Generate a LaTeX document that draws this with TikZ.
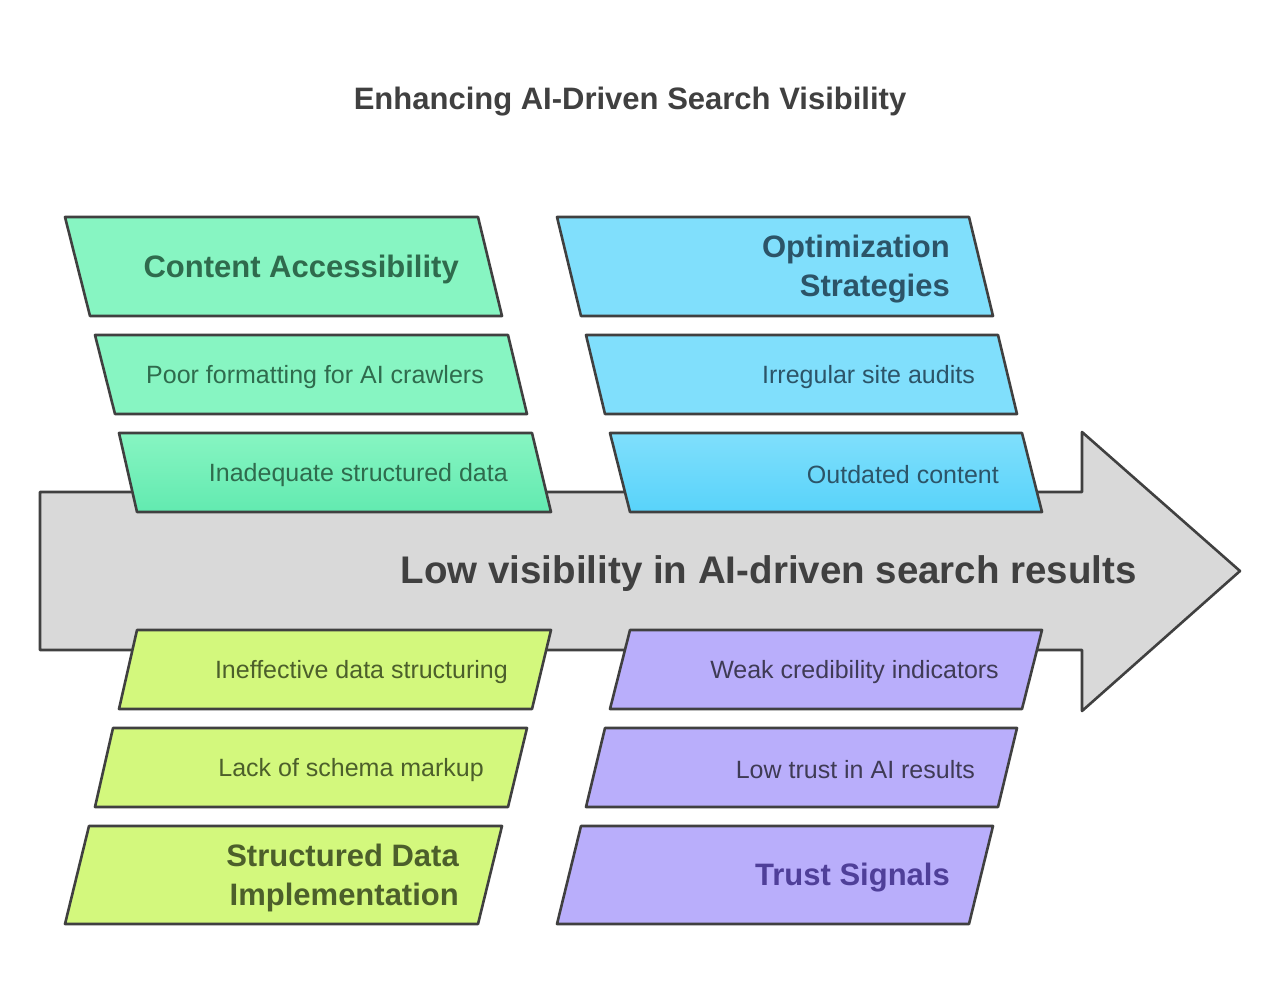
\documentclass[tikz,border=0pt]{standalone}
\usepackage{fontspec}
\setmainfont{Liberation Sans}
\usepackage{tikz}
\definecolor{edge}{HTML}{404040}
\definecolor{arrowgray}{HTML}{D9D9D9}
\definecolor{mint}{HTML}{87F5C2}
\definecolor{mintdark}{HTML}{62EAB0}
\definecolor{minttext}{HTML}{2F6B4D}
\definecolor{sky}{HTML}{80DFFC}
\definecolor{skydark}{HTML}{58D3FA}
\definecolor{skytext}{HTML}{2C5468}
\definecolor{lime}{HTML}{D3F87D}
\definecolor{limetext}{HTML}{4C5F2B}
\definecolor{lilac}{HTML}{B9AEFB}
\definecolor{lilachead}{HTML}{4F3F99}
\definecolor{lilactext}{HTML}{3F3B55}
\tikzset{
  slab/.style={draw=edge, line width=2.6pt, line join=round},
  small/.style={anchor=east, inner sep=0pt, font=\fontsize{25}{30}\selectfont},
  head/.style={anchor=east, inner sep=0pt, align=right, font=\fontsize{31}{39}\selectfont\bfseries}
}

\begin{document}
\begin{tikzpicture}[x=1pt,y=-1pt]
 	\useasboundingbox (0,0) rectangle (1280,1005);
 	\fill [white] (0,0) rectangle (1280,1005);
 	\node (title) [anchor=center, inner sep=0pt, text=edge, font=\fontsize{31}{36}\selectfont\bfseries] at (630,102) {Enhancing AI-Driven Search Visibility};
 	% main arrow
 	\filldraw [slab, fill=arrowgray] (40,492)--(1082,492)--(1082,432)--(1240,571)--(1082,711)--(1082,650)--(40,650)--cycle;
 	\node (problem) [anchor=east, inner sep=0pt, text=edge, font=\fontsize{38.5}{44}\selectfont\bfseries] at (1137,574) {Low visibility in AI-driven search results};
 	% upper left: content accessibility
 	\filldraw [slab, fill=mint] (65,217)--(478,217)--(502,316)--(90,316)--cycle;
 	\filldraw [slab, fill=mint] (95,335)--(508,335)--(527,414)--(115,414)--cycle;
 	\filldraw [slab, top color=mint, bottom color=mintdark] (119,433)--(532,433)--(551,512)--(137,512)--cycle;
 	\node (access) [head, text=minttext] at (459,269) {Content Accessibility};
 	\node (crawl) [small, text=minttext] at (484,377) {Poor formatting for AI crawlers};
 	\node (struct) [small, text=minttext] at (508,475) {Inadequate structured data};
 	% upper right: optimization strategies
 	\filldraw [slab, fill=sky] (557,217)--(969,217)--(993,316)--(581,316)--cycle;
 	\filldraw [slab, fill=sky] (586,335)--(998,335)--(1017,414)--(605,414)--cycle;
 	\filldraw [slab, top color=sky, bottom color=skydark] (610,433)--(1022,433)--(1042,512)--(630,512)--cycle;
 	\node (optim) [head, text=skytext] at (950,269) {Optimization\\Strategies};
 	\node (audit) [small, text=skytext] at (975,377) {Irregular site audits};
 	\node (outdated) [small, text=skytext] at (999,475) {Outdated content};
 	% lower left: structured data implementation
 	\filldraw [slab, fill=lime] (137,630)--(551,630)--(532,709)--(119,709)--cycle;
 	\filldraw [slab, fill=lime] (113,728)--(527,728)--(508,807)--(95,807)--cycle;
 	\filldraw [slab, fill=lime] (89,826)--(502,826)--(478,924)--(65,924)--cycle;
 	\node (ineff) [small, text=limetext] at (508,672) {Ineffective data structuring};
 	\node (schema) [small, text=limetext] at (484,770) {Lack of schema markup};
 	\node (implem) [head, text=limetext] at (459,878) {Structured Data\\Implementation};
 	% lower right: trust signals
 	\filldraw [slab, fill=lilac] (630,630)--(1042,630)--(1022,709)--(610,709)--cycle;
 	\filldraw [slab, fill=lilac] (605,728)--(1017,728)--(998,807)--(586,807)--cycle;
 	\filldraw [slab, fill=lilac] (581,826)--(993,826)--(969,924)--(557,924)--cycle;
 	\node (weak) [small, text=lilactext] at (999,672) {Weak credibility indicators};
 	\node (lowtrust) [small, text=lilactext] at (975,770) {Low trust in AI results};
 	\node (trust) [head, text=lilachead] at (950,878) {Trust Signals};
\end{tikzpicture}
\end{document}
